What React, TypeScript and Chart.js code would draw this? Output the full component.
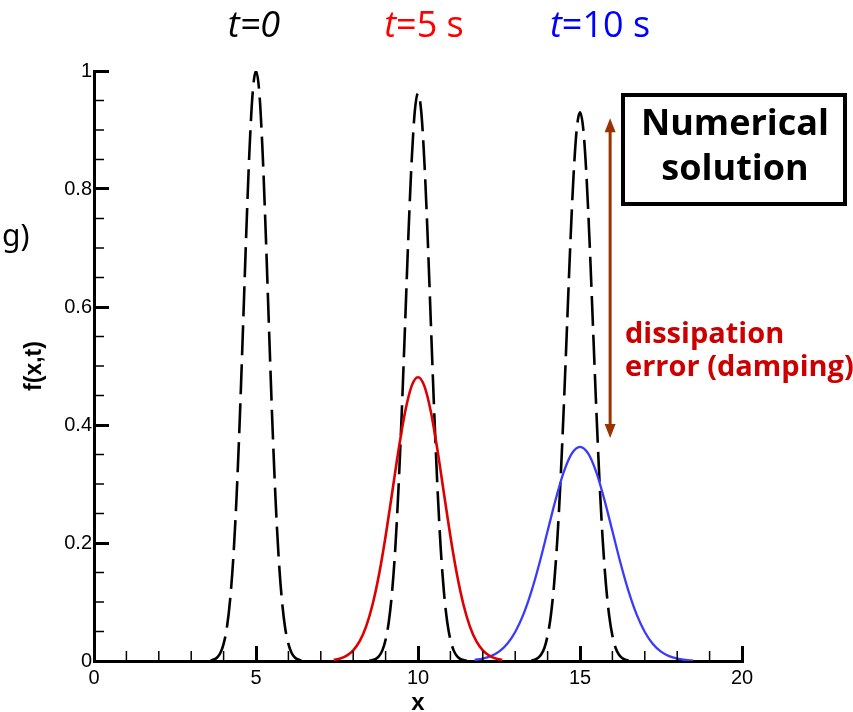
import React, { useEffect, useRef } from 'react';
import { Chart, registerables } from 'chart.js';

Chart.register(...registerables);

// ---------------- data ----------------
// exact solution (dashed black)
const xExactT0 = [3.6, 3.7, 3.8, 3.9, 4.0, 4.1, 4.2, 4.3, 4.4, 4.5, 4.6, 4.7, 4.8, 4.9, 5.0, 5.1, 5.2, 5.3, 5.4, 5.5, 5.6, 5.7, 5.8, 5.9, 6.0, 6.1, 6.2, 6.3, 6.4];
const yExactT0 = [0.001, 0.0025, 0.006, 0.0135, 0.029, 0.056, 0.103, 0.175, 0.278, 0.411, 0.566, 0.726, 0.867, 0.965, 1.0, 0.965, 0.867, 0.726, 0.566, 0.411, 0.278, 0.175, 0.103, 0.056, 0.029, 0.0135, 0.006, 0.0025, 0.001];

const xExactT5 = [8.5, 8.6, 8.7, 8.8, 8.9, 9.0, 9.1, 9.2, 9.3, 9.4, 9.5, 9.6, 9.7, 9.8, 9.9, 10.0, 10.1, 10.2, 10.3, 10.4, 10.5, 10.6, 10.7, 10.8, 10.9, 11.0, 11.1, 11.2, 11.3, 11.4, 11.5];
const yExactT5 = [0.0006, 0.0015, 0.0037, 0.0085, 0.018, 0.036, 0.067, 0.117, 0.192, 0.295, 0.423, 0.568, 0.716, 0.843, 0.931, 0.962, 0.931, 0.843, 0.716, 0.568, 0.423, 0.295, 0.192, 0.117, 0.067, 0.036, 0.018, 0.0085, 0.0037, 0.0015, 0.0006];

const xExactT10 = [13.5, 13.6, 13.7, 13.8, 13.9, 14.0, 14.1, 14.2, 14.3, 14.4, 14.5, 14.6, 14.7, 14.8, 14.9, 15.0, 15.1, 15.2, 15.3, 15.4, 15.5, 15.6, 15.7, 15.8, 15.9, 16.0, 16.1, 16.2, 16.3, 16.4, 16.5];
const yExactT10 = [0.0009, 0.0022, 0.0051, 0.011, 0.022, 0.043, 0.077, 0.13, 0.206, 0.307, 0.431, 0.568, 0.705, 0.822, 0.902, 0.93, 0.902, 0.822, 0.705, 0.568, 0.431, 0.307, 0.206, 0.13, 0.077, 0.043, 0.022, 0.011, 0.0051, 0.0022, 0.0009];

// numerical solution (solid)
const xNumT5 = [7.4, 7.6, 7.8, 8.0, 8.2, 8.4, 8.6, 8.8, 9.0, 9.2, 9.4, 9.6, 9.8, 10.0, 10.2, 10.4, 10.6, 10.8, 11.0, 11.2, 11.4, 11.6, 11.8, 12.0, 12.2, 12.4, 12.6];
const yNumT5 = [0.0019, 0.0042, 0.009, 0.018, 0.0335, 0.0587, 0.0961, 0.1473, 0.2114, 0.2843, 0.3578, 0.4217, 0.4655, 0.481, 0.4655, 0.4217, 0.3578, 0.2843, 0.2114, 0.1473, 0.0961, 0.0587, 0.0335, 0.018, 0.009, 0.0042, 0.0019];

const xNumT10 = [11.75, 12.0, 12.25, 12.5, 12.75, 13.0, 13.25, 13.5, 13.75, 14.0, 14.25, 14.5, 14.75, 15.0, 15.25, 15.5, 15.75, 16.0, 16.25, 16.5, 16.75, 17.0, 17.25, 17.5, 17.75, 18.0, 18.25, 18.5];
const yNumT10 = [0.0019, 0.004, 0.0083, 0.0159, 0.0289, 0.0491, 0.0785, 0.1179, 0.1662, 0.2202, 0.274, 0.3204, 0.3518, 0.363, 0.3518, 0.3204, 0.274, 0.2202, 0.1662, 0.1179, 0.0785, 0.0491, 0.0289, 0.0159, 0.0083, 0.004, 0.0019, 0.0008];

// ticks
const xMajorTicks = [0, 5, 10, 15, 20];
const yMajorTicks = [0, 0.2, 0.4, 0.6, 0.8, 1];
const yTickLabels = ['0', '0.2', '0.4', '0.6', '0.8', '1'];
const xMinorTicks = [1, 2, 3, 4, 6, 7, 8, 9, 11, 12, 13, 14, 16, 17, 18, 19];
const yMinorTicks = [0.05, 0.1, 0.15, 0.25, 0.3, 0.35, 0.45, 0.5, 0.55, 0.65, 0.7, 0.75, 0.85, 0.9, 0.95];

// annotation values (data units)
const arrowX = 15.93;
const arrowTop = 0.92;
const arrowBottom = 0.378;

const toPoints = (xs: number[], ys: number[]) => xs.map((x, i) => ({ x, y: ys[i] }));

type Part = { text: string; italic?: boolean };

function drawParts(ctx: CanvasRenderingContext2D, parts: Part[], cx: number, baseline: number, size: number, color: string) {
  const fontFor = (p: Part) => `${p.italic ? 'italic ' : ''}${size}px "Open Sans"`;
  let total = 0;
  parts.forEach((p) => {
    ctx.font = fontFor(p);
    total += ctx.measureText(p.text).width;
  });
  let x = cx - total / 2;
  ctx.fillStyle = color;
  ctx.textAlign = 'left';
  ctx.textBaseline = 'alphabetic';
  parts.forEach((p) => {
    ctx.font = fontFor(p);
    ctx.fillText(p.text, x, baseline);
    x += ctx.measureText(p.text).width;
  });
}

const overlayPlugin = {
  id: 'overlay',
  afterDraw(chart: any) {
    const { ctx } = chart;
    const xs = chart.scales.x;
    const ys = chart.scales.y;
    ctx.save();

    // minor ticks (inward)
    ctx.strokeStyle = '#000';
    ctx.lineWidth = 1.5;
    const py0 = ys.getPixelForValue(0);
    const px0 = xs.getPixelForValue(0);
    xMinorTicks.forEach((v) => {
      const px = xs.getPixelForValue(v);
      ctx.beginPath();
      ctx.moveTo(px, py0);
      ctx.lineTo(px, py0 - 10);
      ctx.stroke();
    });
    yMinorTicks.forEach((v) => {
      const py = ys.getPixelForValue(v);
      ctx.beginPath();
      ctx.moveTo(px0, py);
      ctx.lineTo(px0 + 10, py);
      ctx.stroke();
    });

    // titles above the peaks
    drawParts(ctx, [{ text: 't=0', italic: true }], 254, 37, 36, '#000000');
    drawParts(ctx, [{ text: 't', italic: true }, { text: '=5 s' }], 424, 37, 36, '#ff0000');
    drawParts(ctx, [{ text: 't', italic: true }, { text: '=10 s' }], 600, 37, 36, '#0000ff');

    // panel label
    ctx.fillStyle = '#000';
    ctx.font = '30px "Noto Sans"';
    ctx.textAlign = 'left';
    ctx.textBaseline = 'alphabetic';
    ctx.fillText('g)', 2, 246);

    // box "Numerical solution"
    ctx.strokeStyle = '#000';
    ctx.lineWidth = 4;
    ctx.strokeRect(623, 95, 222, 109);
    ctx.font = 'bold 36px "Open Sans"';
    ctx.textAlign = 'center';
    ctx.fillText('Numerical', 735, 135);
    ctx.fillText('solution', 735, 180);

    // dissipation text
    ctx.fillStyle = '#cc0000';
    ctx.font = 'bold 29px "Open Sans"';
    ctx.textAlign = 'left';
    ctx.fillText('dissipation', 625, 343);
    ctx.fillText('error (damping)', 625, 376);

    // double-headed arrow
    const ax = xs.getPixelForValue(arrowX);
    const at = ys.getPixelForValue(arrowTop);
    const ab = ys.getPixelForValue(arrowBottom);
    const head = 14;
    const hw = 5.5;
    ctx.strokeStyle = '#993300';
    ctx.fillStyle = '#993300';
    ctx.lineWidth = 3;
    ctx.beginPath();
    ctx.moveTo(ax, at + head - 2);
    ctx.lineTo(ax, ab - head + 2);
    ctx.stroke();
    ctx.beginPath();
    ctx.moveTo(ax, at);
    ctx.lineTo(ax - hw, at + head);
    ctx.lineTo(ax + hw, at + head);
    ctx.closePath();
    ctx.fill();
    ctx.beginPath();
    ctx.moveTo(ax, ab);
    ctx.lineTo(ax - hw, ab - head);
    ctx.lineTo(ax + hw, ab - head);
    ctx.closePath();
    ctx.fill();

    ctx.restore();
  },
};

export default function App() {
  const canvasRef = useRef<HTMLCanvasElement | null>(null);

  useEffect(() => {
    const canvas = canvasRef.current;
    if (!canvas) return;
    Chart.defaults.font.family = '"Liberation Sans", Arial, sans-serif';
    const dashed = {
      borderColor: '#000000',
      borderWidth: 2.6,
      borderDash: [30, 9],
      pointRadius: 0,
      fill: false,
      cubicInterpolationMode: 'monotone' as const,
    };
    const chart = new Chart(canvas, {
      type: 'line',
      data: {
        datasets: [
          { label: 'numerical t=5', data: toPoints(xNumT5, yNumT5), borderColor: '#dd0000', borderWidth: 2.6, pointRadius: 0, fill: false, cubicInterpolationMode: 'monotone' },
          { label: 'numerical t=10', data: toPoints(xNumT10, yNumT10), borderColor: '#3a3aff', borderWidth: 2.3, pointRadius: 0, fill: false, cubicInterpolationMode: 'monotone' },
          { label: 'exact t=0', data: toPoints(xExactT0, yExactT0), ...dashed },
          { label: 'exact t=5', data: toPoints(xExactT5, yExactT5), ...dashed },
          { label: 'exact t=10', data: toPoints(xExactT10, yExactT10), ...dashed },
        ],
      },
      options: {
        animation: false,
        responsive: false,
        maintainAspectRatio: false,
        devicePixelRatio: 1,
        layout: { padding: { top: 71, right: 111, left: 0, bottom: 0 } },
        plugins: {
          legend: { display: false },
          tooltip: { enabled: false },
        },
        scales: {
          x: {
            type: 'linear',
            min: 0,
            max: 20,
            afterFit: (s: any) => { s.height = 51; },
            afterBuildTicks: (s: any) => { s.ticks = xMajorTicks.map((v) => ({ value: v })); },
            border: { display: true, color: '#000', width: 3 },
            grid: { display: true, drawOnChartArea: false, drawTicks: true, tickLength: -15, tickWidth: 3, tickColor: '#000' },
            ticks: { color: '#000', font: { size: 20 }, padding: 20, maxRotation: 0, autoSkip: false },
            title: { display: true, text: 'x', color: '#000', font: { size: 24, weight: 'bold', lineHeight: 0.75 }, padding: 0 },
          },
          y: {
            type: 'linear',
            min: 0,
            max: 1,
            afterFit: (s: any) => { s.width = 94; },
            afterBuildTicks: (s: any) => { s.ticks = yMajorTicks.map((v) => ({ value: v })); },
            border: { display: true, color: '#000', width: 3 },
            grid: { display: true, drawOnChartArea: false, drawTicks: true, tickLength: -15, tickWidth: 3, tickColor: '#000' },
            ticks: {
              color: '#000',
              font: { size: 20 },
              padding: 17,
              autoSkip: false,
              callback: (_v: any, i: number) => yTickLabels[i],
            },
            title: { display: true, text: 'f(x,t)', color: '#000', font: { size: 23, weight: 'bold' }, padding: { top: 21, bottom: 0 } },
          },
        },
      },
      plugins: [overlayPlugin],
    });
    return () => chart.destroy();
  }, []);

  return (
    <div style={{ position: 'absolute', left: 0, top: 0, width: 853, height: 712, background: '#fff' }}>
      <canvas ref={canvasRef} width={853} height={712} style={{ display: 'block' }} />
    </div>
  );
}
